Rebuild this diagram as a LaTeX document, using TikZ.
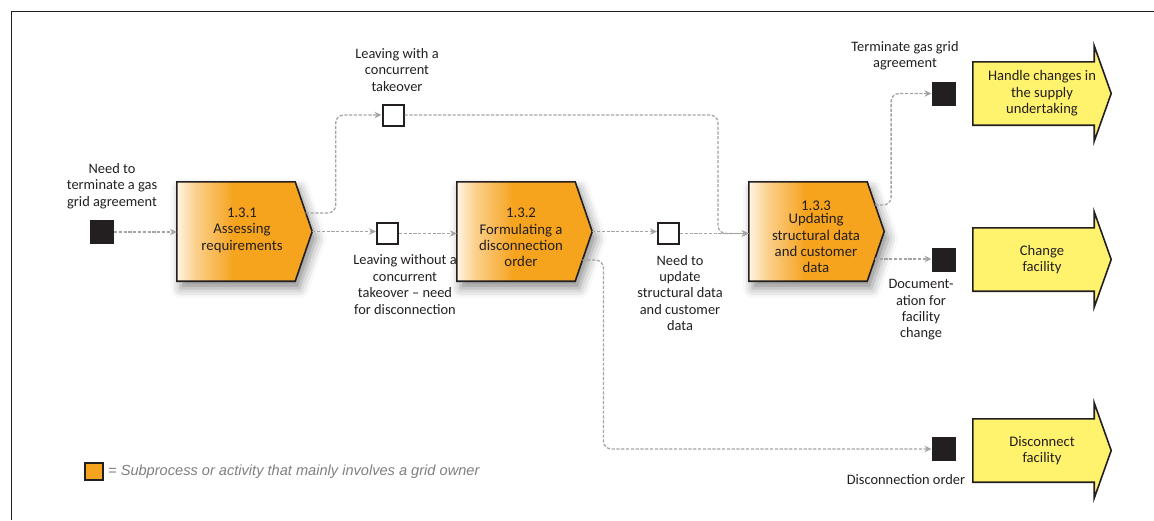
\documentclass[tikz,border=0pt]{standalone}
\usepackage{fontspec}
\setmainfont{Carlito}
\newfontfamily\legendfont{Liberation Sans}
\usetikzlibrary{arrows.meta,shadows.blur,calc}
\pgfdeclarelayer{background}
\pgfsetlayers{background,main}
\definecolor{procorange}{HTML}{F6A31E}
\definecolor{proclight}{HTML}{FFF4E4}
\definecolor{arrowyellow}{HTML}{FFF36D}
\definecolor{edgegray}{HTML}{A4A4A4}
\definecolor{outline}{HTML}{231F20}
\definecolor{legendgray}{HTML}{7F7F7F}
\pgfdeclarehorizontalshading{procshade}{100bp}{color(0bp)=(proclight); color(25bp)=(proclight); color(32bp)=(proclight!55!procorange); color(46bp)=(procorange); color(100bp)=(procorange)}
\tikzset{
  lbl/.style={align=center, font=\fontsize{14.4}{16.4}\selectfont, inner sep=0pt, text=outline},
  ptext/.style={align=center, font=\fontsize{14.8}{16.4}\selectfont, inner sep=0pt, text=outline},
  procnode/.style={minimum width=135pt, minimum height=99pt, inner sep=0pt},
  endnode/.style={minimum width=138pt, minimum height=63pt, inner sep=0pt, align=center,
    font=\fontsize{14.6}{16.4}\selectfont, text=outline},
  procshape/.style={shading=procshade, shading angle=0, draw=outline, line width=1.6pt, line join=miter,
    blur shadow={shadow xshift=4pt, shadow yshift=-7pt, shadow blur radius=10pt, shadow opacity=45}},
  endshape/.style={fill=arrowyellow, draw=outline, line width=1.6pt, line join=miter},
  evopen/.style={draw=outline, line width=2pt, fill=white, minimum size=21pt, inner sep=0pt},
  evfull/.style={draw=outline, line width=1pt, fill=outline, minimum size=23pt, inner sep=0pt},
  flow/.style={draw=edgegray, line width=1.3pt, dash pattern=on 3.2pt off 1.6pt, rounded corners=8pt,
    -{Stealth[length=7pt,width=6.5pt]}},
}
\begin{document}
\begin{tikzpicture}[x=1pt,y=-1pt]
\useasboundingbox (0,0) rectangle (1154,520);
% frame
\draw[line width=0.9pt, color=outline] (11,520) -- (11,11) -- (1154,11);

% process nodes (shape area) and texts
\node[procnode] (p1) at (244.5,231.5) {};
\node[procnode] (p2) at (524.5,231.5) {};
\node[procnode] (p3) at (816.5,231.5) {};
\node[ptext] (p1t) at (242,230) {1.3.1\\Assessing\\requirements};
\node[ptext] (p2t) at (521,237.5) {1.3.2\\Formulating a\\disconnection\\order};
\node[ptext] (p3t) at (816,237) {1.3.3\\[-3.5pt]Updating\\structural data\\and customer\\data};

% end process arrows
\node[endnode] (y1) at (1042,93.5) {Handle changes in\\the supply\\undertaking};
\node[endnode] (y2) at (1042,259.5) {Change\\facility};
\node[endnode] (y3) at (1042,450.5) {Disconnect\\facility};

\begin{pgfonlayer}{background}
\foreach \p in {p1,p2,p3}{
  \path[procshape] (\p.north west) -- ($(\p.north east)+(-17,0)$) -- (\p.east)
    -- ($(\p.south east)+(-17,0)$) -- (\p.south west) -- cycle;
}
\foreach \y in {y1,y2,y3}{
  \path[endshape] (\y.north west) -- ($(\y.north east)+(-17,0)$) -- ($(\y.north east)+(-17,-16)$)
    -- (\y.east) -- ($(\y.south east)+(-17,16)$) -- ($(\y.south east)+(-17,0)$)
    -- (\y.south west) -- cycle;
}
\end{pgfonlayer}

% events
\node[evfull] (s0) at (102,232) {};
\node[evopen] (t1) at (393,115) {};
\node[evopen] (t2) at (387.5,233.5) {};
\node[evopen] (t3) at (668.5,233.5) {};
\node[evfull] (e1) at (943.5,93.5) {};
\node[evfull] (e2) at (943.5,259.5) {};
\node[evfull] (e3) at (943.5,449) {};

% labels
\node[lbl] (l0) at (112,186) {Need to\\terminate a gas\\grid agreement};
\node[lbl] (l1) at (397,70) {Leaving with a\\concurrent\\takeover};
\node[lbl] (l2) at (405,284.5) {Leaving without a\\concurrent\\takeover – need\\for disconnection};
\node[lbl] (l3) at (680,293) {Need to\\update\\structural data\\and customer\\data};
\node[lbl] (l4) at (905,56) {Terminate gas grid\\agreement};
\node[lbl] (l5) at (921,310) {Document-\\ation for\\facility\\change};
\node[lbl] (l6) at (906,480) {Disconnection order};

% connector anchor points on slanted edges
\coordinate (p1o1) at ($(p1.east)+(-6.5,-18.5)$);
\coordinate (p2o2) at ($(p2.east)+(-9.8,28.5)$);
\coordinate (p3o1) at ($(p3.east)+(-9.1,-26.5)$);
\coordinate (p3o2) at ($(p3.east)+(-9.4,27.5)$);
\coordinate (j1) at (718,233.5);

% connectors
\draw[flow] (s0.east) -- (s0.east -| p1.west);
\draw[flow] (p1o1) -- ++(30,0) |- (t1.west);
\draw[flow] (p1.east) -- (p1.east -| t2.west);
\draw[flow] (t2.east) -- (t2.east -| p2.west);
\draw[flow] (p2.east) -- (p2.east -| t3.west);
\draw[flow] (t3.east) -- (t3.east -| p3.west);
\draw[flow] (t1.east) -| (j1) -- (j1 -| p3.west);
\draw[flow] (p2o2) -- ++(21,0) |- (e3.west);
\draw[flow] (p3o1) -- ++(16,0) |- (e1.west);
\draw[flow] (p3o2) -- (p3o2 -| e2.west);

% legend
\node[draw=outline, line width=1.5pt, fill=procorange, minimum width=18pt, minimum height=17pt, inner sep=0pt] (lg) at (94,471.5) {};
\node[anchor=west, inner sep=0pt, text=legendgray, font=\legendfont\itshape\fontsize{14.6}{16}\selectfont] (lgt) at (108,471.5) {= Subprocess or activity that mainly involves a grid owner};
\end{tikzpicture}
\end{document}
